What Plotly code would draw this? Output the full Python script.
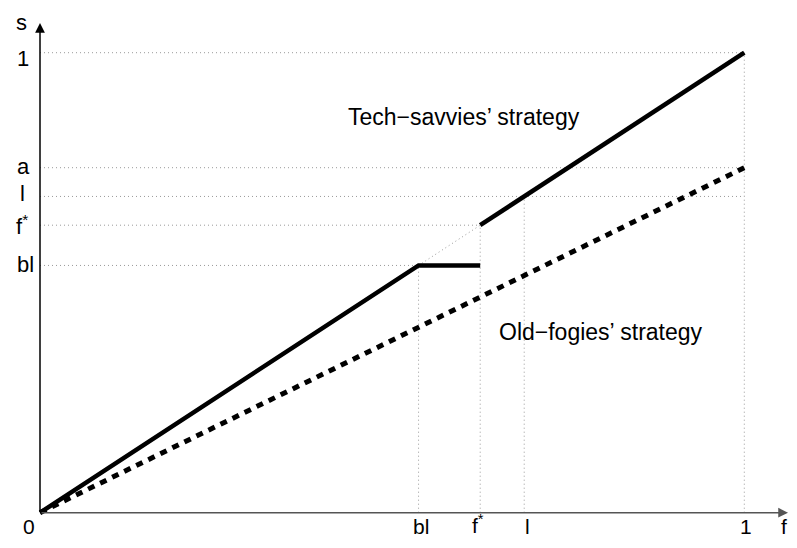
import plotly.graph_objects as go

# Parameter values (fractions on both axes)
bl = 0.5375
fstar = 0.625
l_val = 0.6875
a_val = 0.75

# Tech-savvies strategy pieces
tech_x1 = [0, bl, fstar]
tech_y1 = [0, bl, bl]
tech_x2 = [fstar, 1]
tech_y2 = [fstar, 1]
# Old-fogies strategy
old_x = [0, 1]
old_y = [0, a_val]

# tick labels
x_tick_vals = [0, bl, fstar, l_val, 1]
x_tick_text = ["0", "bl", "f<sup>*</sup>", "l", "1"]
y_tick_vals = [bl, fstar, l_val, a_val, 1]
y_tick_text = ["bl", "f<sup>*</sup>", "l", "a", "1"]

FONT = "Liberation Sans, Arial, sans-serif"
GUIDE = dict(color="#9a9a9a", width=1, dash="1px,3px")

# pixel scale helpers (screen origin at 40,512.7; 704.3 px / unit in x, 460 px / unit in y)
SX, SY, OX, OY = 704.3, 460.0, 40.0, 512.7
PAGE_OFF = 8  # default body margin of the page (both sides)

fig = go.Figure()

def guide(xs, ys):
    fig.add_trace(go.Scatter(x=xs, y=ys, mode="lines", line=GUIDE,
                             hoverinfo="skip", showlegend=False))

# horizontal guides
guide([0, 1], [1, 1])
guide([0, 1], [a_val, a_val])
guide([0, 1], [l_val, l_val])
guide([0, fstar], [fstar, fstar])
guide([0, bl], [bl, bl])
# vertical guides
guide([bl, bl], [0, bl])
guide([fstar, fstar], [0, fstar])
guide([l_val, l_val], [0, l_val])
guide([1, 1], [0, 1])
# diagonal dotted connector
guide([bl, fstar], [bl, fstar])

# strategies
fig.add_trace(go.Scatter(x=old_x, y=old_y, mode="lines",
                         line=dict(color="black", width=5, dash="7px,6.4px"),
                         showlegend=False))
fig.add_trace(go.Scatter(x=tech_x1, y=tech_y1, mode="lines",
                         line=dict(color="black", width=4.5), showlegend=False))
fig.add_trace(go.Scatter(x=tech_x2, y=tech_y2, mode="lines",
                         line=dict(color="black", width=4.5), showlegend=False))

# axes with arrows
fig.add_annotation(x=(788 - OX) / SX, y=0, ax=0, ay=0, xref="x", yref="y", axref="x", ayref="y",
                   showarrow=True, arrowhead=2, arrowsize=1.3, arrowwidth=1.5,
                   arrowcolor="#555555", text="")
fig.add_annotation(x=0, y=(OY - 23) / SY, ax=0, ay=0, xref="x", yref="y", axref="x", ayref="y",
                   showarrow=True, arrowhead=2, arrowsize=1.3, arrowwidth=1.5,
                   arrowcolor="black", text="")

def label(px, py, t, size=22, xanchor="center"):
    fig.add_annotation(x=(px - OX) / SX, y=(OY - py) / SY, xref="x", yref="y", text=t,
                       showarrow=False, font=dict(family=FONT, size=size, color="black"),
                       xanchor=xanchor, yanchor="middle", borderpad=0)

# bottom tick labels (screen pixel centers)
x_label_px = [29, 421, 478, 527, 746]
x_label_py = [526, 526, 524, 526, 526]
for px, py, t in zip(x_label_px, x_label_py, x_tick_text):
    label(px, py, t, size=21)

# horizontal axis name
label(784, 526, "f", size=21)

# left tick labels
y_label_py = [264, 225, 193, 166, 58]
y_label_px = [25, 22, 22, 23, 23]
for px, py, t in zip(y_label_px, y_label_py, y_tick_text):
    label(px, py, t)
label(21, 22, "s")

# strategy labels
label(463.5, 117, "Tech\u2212savvies\u2019 strategy", 23)
label(600.5, 332, "Old\u2212fogies\u2019 strategy", 23)

W, H = 797 - 2 * PAGE_OFF, 548 - 2 * PAGE_OFF
fig.update_layout(
    width=W, height=H,
    margin=dict(l=0, r=0, t=0, b=0),
    plot_bgcolor="white", paper_bgcolor="white",
    xaxis=dict(range=[(PAGE_OFF - OX) / SX, (PAGE_OFF + W - OX) / SX], visible=False, fixedrange=True),
    yaxis=dict(range=[(OY - PAGE_OFF - H) / SY, (OY - PAGE_OFF) / SY], visible=False, fixedrange=True),
)

fig.write_html("out.html")
